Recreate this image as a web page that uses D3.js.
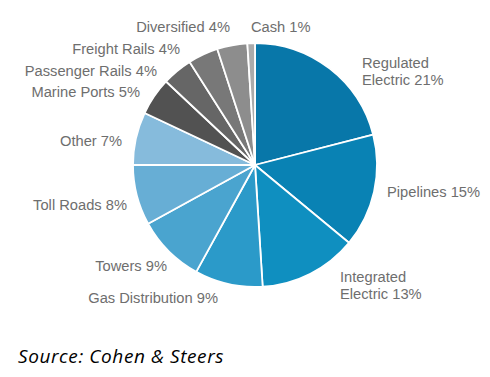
<!DOCTYPE html>
<html>
<head>
<meta charset="utf-8">
<script src="https://cdn.jsdelivr.net/npm/d3@7"></script>
<style>
  body { margin: 0; background: #fff; }
  svg { display: block; }
</style>
</head>
<body>
<script>
// data, clockwise from 12 o'clock
const sectors = ["Regulated Electric", "Pipelines", "Integrated Electric", "Gas Distribution",
  "Towers", "Toll Roads", "Other", "Marine Ports", "Passenger Rails", "Freight Rails",
  "Diversified", "Cash"];
const shares = [21, 15, 13, 9, 9, 8, 7, 5, 4, 4, 4, 1];
const colors = ["#0877a9", "#0982b4", "#0f8fc0", "#2b9ac9", "#4aa4cf", "#67aed5", "#86bbdc",
  "#525252", "#666666", "#787878", "#8d8d8d", "#ababab"];

// label layout: lines of text, anchor point, text-anchor
const labelSpots = [
  { lines: ["Regulated", "Electric 21%"], x: 362, y: 68, a: "start" },
  { lines: ["Pipelines 15%"], x: 387, y: 197, a: "start" },
  { lines: ["Integrated", "Electric 13%"], x: 340, y: 282, a: "start" },
  { lines: ["Gas Distribution 9%"], x: 218, y: 303, a: "end" },
  { lines: ["Towers 9%"], x: 167, y: 271, a: "end" },
  { lines: ["Toll Roads 8%"], x: 127, y: 210, a: "end" },
  { lines: ["Other 7%"], x: 122, y: 146, a: "end" },
  { lines: ["Marine Ports 5%"], x: 140, y: 97, a: "end" },
  { lines: ["Passenger Rails 4%"], x: 157, y: 76, a: "end" },
  { lines: ["Freight Rails 4%"], x: 180, y: 54, a: "end" },
  { lines: ["Diversified 4%"], x: 230, y: 32, a: "end" },
  { lines: ["Cash 1%"], x: 251, y: 32, a: "start" }
];

const width = 490, height = 377;
const cx = 255, cy = 165, radius = 122;

const svg = d3.select("body").append("svg")
  .attr("width", width)
  .attr("height", height);

const pie = d3.pie().sort(null).value(d => d);
const arc = d3.arc().innerRadius(0).outerRadius(radius);

const g = svg.append("g").attr("transform", `translate(${cx},${cy})`);

g.selectAll("path")
  .data(pie(shares))
  .join("path")
  .attr("d", arc)
  .attr("fill", (d, i) => colors[i])
  .attr("stroke", "#fff")
  .attr("stroke-width", 1.8)
  .attr("stroke-linejoin", "round");

// labels
const labels = svg.append("g")
  .attr("font-family", "'Liberation Sans', Arial, sans-serif")
  .attr("font-size", "14.7px")
  .attr("fill", "#6e6e6e");

labels.selectAll("text")
  .data(labelSpots)
  .join("text")
  .attr("x", d => d.x)
  .attr("y", d => d.y)
  .attr("text-anchor", d => d.a)
  .each(function (d) {
    d3.select(this).selectAll("tspan")
      .data(d.lines)
      .join("tspan")
      .attr("x", d.x)
      .attr("dy", (t, i) => i === 0 ? 0 : 17)
      .text(t => t);
  });

svg.append("text")
  .attr("x", 18)
  .attr("y", 363)
  .attr("font-family", "'Open Sans', sans-serif")
  .attr("font-style", "italic")
  .attr("font-size", "19px")
  .attr("letter-spacing", "0.6px")
  .attr("fill", "#000")
  .text("Source: Cohen & Steers");
</script>
</body>
</html>
